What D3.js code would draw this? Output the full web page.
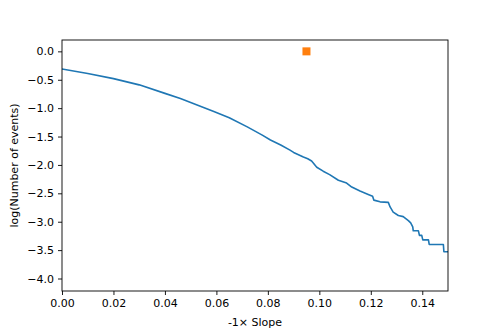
<!DOCTYPE html>
<html>
<head>
<meta charset="utf-8">
<script src="https://cdn.jsdelivr.net/npm/d3@7"></script>
<style>
  body { margin: 0; background: #fff; }
  text { font-family: "DejaVu Sans", sans-serif; }
</style>
</head>
<body>
<div id="chart"></div>
<script>
// survival curve: -1x slope vs log(number of events)
var slopeX = [0.000, 0.010, 0.020, 0.030, 0.040, 0.046, 0.050, 0.055, 0.059, 0.065, 0.072, 0.078, 0.081, 0.085,
  0.0886, 0.090, 0.0938, 0.0955, 0.097, 0.099, 0.1015, 0.104, 0.1074, 0.1106, 0.1126, 0.1158, 0.119, 0.1207,
  0.1212, 0.1236, 0.1268, 0.1275, 0.1287, 0.1307, 0.1326, 0.1346, 0.1355, 0.1363, 0.1365, 0.1385, 0.1389,
  0.1398, 0.1402, 0.1424, 0.1427, 0.1482, 0.1484, 0.1500];
var logN = [-0.31, -0.39, -0.48, -0.59, -0.74, -0.83, -0.90, -0.99, -1.06, -1.17, -1.33, -1.48, -1.56, -1.65,
  -1.74, -1.78, -1.86, -1.89, -1.93, -2.04, -2.11, -2.17, -2.27, -2.32, -2.39, -2.46, -2.52, -2.55,
  -2.62, -2.65, -2.66, -2.74, -2.83, -2.89, -2.91, -2.98, -3.02, -3.09, -3.16, -3.16, -3.24,
  -3.24, -3.32, -3.32, -3.40, -3.40, -3.53, -3.53];

// single observed value (orange square)
var obsX = [0.095];
var obsY = [0.0];

var xTicks = [0.00, 0.02, 0.04, 0.06, 0.08, 0.10, 0.12, 0.14];
var yTicks = [0.0, -0.5, -1.0, -1.5, -2.0, -2.5, -3.0, -3.5, -4.0];

var W = 498, H = 332;
var margin = {top: 40, right: 50, bottom: 41, left: 62},
    width = W - margin.left - margin.right,
    height = H - margin.top - margin.bottom;

var svg = d3.select("#chart")
  .append("svg")
    .attr("width", W)
    .attr("height", H)
  .append("g")
    .attr("transform", "translate(" + margin.left + "," + margin.top + ")");

var x = d3.scaleLinear().domain([0, 0.15]).range([0, width]);
var y = d3.scaleLinear().domain([-4.22, 0.2]).range([height, 0]);

svg.append("clipPath").attr("id", "clip")
  .append("rect").attr("width", width).attr("height", height);

var pts = slopeX.map(function(d, i) { return [d, logN[i]]; });

svg.append("path")
  .datum(pts)
  .attr("clip-path", "url(#clip)")
  .attr("d", d3.line()
    .x(function(d) { return x(d[0]); })
    .y(function(d) { return y(d[1]); }))
  .attr("fill", "none")
  .attr("stroke", "#1f77b4")
  .attr("stroke-width", 1.6)
  .attr("stroke-linejoin", "round");

svg.selectAll(".obs")
  .data(obsX)
  .enter()
  .append("rect")
    .attr("class", "obs")
    .attr("x", function(d) { return x(d) - 4; })
    .attr("y", function(d, i) { return y(obsY[i]) - 4; })
    .attr("width", 8)
    .attr("height", 8)
    .attr("fill", "#ff7f0e");

var fmt = function(d) { return d3.format(".1f")(d).replace("-", "\u2212"); };

var xAxis = svg.append("g")
  .attr("transform", "translate(0," + height + ")")
  .call(d3.axisBottom(x).tickValues(xTicks).tickFormat(d3.format(".2f")).tickSizeOuter(0).tickSize(4).tickPadding(4));

var yAxis = svg.append("g")
  .call(d3.axisLeft(y).tickValues(yTicks).tickFormat(fmt).tickSizeOuter(0).tickSize(4).tickPadding(4));

[xAxis, yAxis].forEach(function(a) {
  a.select(".domain").remove();
  a.selectAll("line").attr("stroke", "#000").attr("stroke-width", 0.9);
  a.selectAll("text").attr("font-family", "DejaVu Sans").attr("font-size", 11).attr("fill", "#000");
});

// frame
svg.append("rect")
  .attr("width", width)
  .attr("height", height)
  .attr("fill", "none")
  .attr("stroke", "#000")
  .attr("stroke-width", 0.9);

svg.append("text")
  .attr("x", width / 2)
  .attr("y", height + 35)
  .attr("text-anchor", "middle")
  .style("font-size", "11px")
  .text("-1\u00d7 Slope");

svg.append("text")
  .attr("transform", "translate(" + (-44) + "," + (height / 2) + ") rotate(-90)")
  .attr("text-anchor", "middle")
  .style("font-size", "11px")
  .text("log(Number of events)");
</script>
</body>
</html>
